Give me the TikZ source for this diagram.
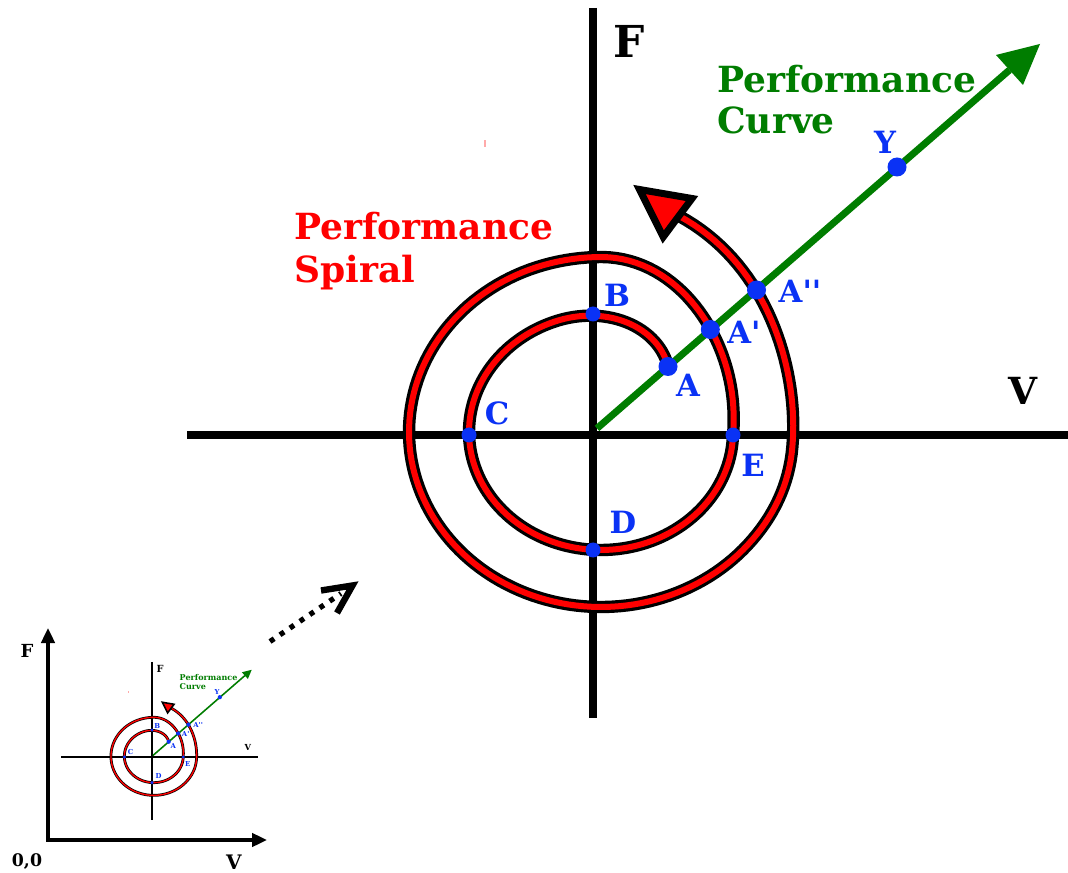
\documentclass[tikz,border=0pt]{standalone}
\usepackage{fontspec}
\setmainfont{DejaVu Serif}
\usetikzlibrary{arrows.meta}
\definecolor{ptblue}{RGB}{10,50,245}
\definecolor{ptgreen}{RGB}{0,125,0}
\definecolor{ptred}{RGB}{255,0,0}
\definecolor{ptpink}{RGB}{255,170,170}

\newcommand\mycore[1]{%
  % axes
  \coordinate (#1Ftop) at (593,8);
  \coordinate (#1Fbot) at (593,718);
  \coordinate (#1Vl) at (187,435);
  \coordinate (#1Vr) at (1068,435);
  \draw[mainaxis] (#1Ftop) -- (#1Fbot);
  \draw[mainaxis] (#1Vl) -- (#1Vr);
  \fill[ptpink] (484,140) rectangle (486,147);
  % spiral
  \draw[spiralline] plot[domain=44.6:795,samples=340]
     ({601+aa(\x)*cos(\x)},{432-bb(\x)*sin(\x)});
  \filldraw[spiralhead] (639.5,189.5) -- (692,198.5) -- (663.2,237) -- cycle;
  % performance curve
  \coordinate (#1O) at (597,428.4);
  \coordinate (#1Gbase) at (1009.5,70);
  \draw[greenline] (#1O) -- (#1Gbase);
  \fill[ptgreen] (1040,44) -- (996,55) -- (1023,85) -- cycle;
  % points
  \node[smalldot] (#1pB) at (593,314) {};
  \node[smalldot] (#1pC) at (469,435) {};
  \node[smalldot] (#1pD) at (593,550) {};
  \node[smalldot] (#1pE) at (733,435) {};
  \node[bigdot] (#1pA) at (668,366.5) {};
  \node[bigdot] (#1pA1) at (710.3,329.5) {};
  \node[bigdot] (#1pA2) at (756.5,290) {};
  \node[bigdot] (#1pY) at (897,167) {};
  % labels
  \node[ptlbl] (#1lA) at (688,385) {A};
  \node[ptlbl] (#1lA1) at (744,332) {A\textquotesingle};
  \node[ptlbl] (#1lA2) at (800,291) {A\textquotesingle\textquotesingle};
  \node[ptlbl] (#1lB) at (617,295) {B};
  \node[ptlbl] (#1lC) at (497,413) {C};
  \node[ptlbl] (#1lD) at (623,522) {D};
  \node[ptlbl] (#1lE) at (753,465) {E};
  \node[ptlbl] (#1lY) at (885,142) {Y};
  \node[axlbl, font=\fontsize{33}{36}\selectfont\bfseries] (#1lF) at (629,41) {F};
  \node[axlbl, font=\fontsize{28}{32}\selectfont\bfseries] (#1lV) at (1023,391) {V};
  \node[biglbl, text=ptgreen] (#1gc1) at (717,93) {Performance};
  \node[biglbl, text=ptgreen] (#1gc2) at (717,134) {Curve};
}

\begin{document}
\begin{tikzpicture}[x=0.75pt,y=-0.75pt,
  declare function={
    cl(\uu)=min(max(\uu,0),1);
    ss(\uu)=3*cl(\uu)*cl(\uu)-2*cl(\uu)*cl(\uu)*cl(\uu);
    eo(\uu)=1-(1-cl(\uu))*(1-cl(\uu));
    gg(\vv)=ifthenelse(\vv<40,max(\vv,0)*max(\vv,0)/80,\vv-20);
    aa(\ang)=94+38*eo((\ang-44.6)/75)+60*ss((\ang-355)/120)+0.0075*max(\ang-715,0)*max(\ang-715,0);
    bb(\ang)=94+24*eo((\ang-44.6)/65)+57*ss((\ang-360)/90)+0.597*gg(\ang-680);
  },
  mainaxis/.style={draw=black, line width=6pt},
  spiralline/.style={draw=black, double=ptred, double distance=4.5pt, line width=2.4pt, line join=round},
  spiralhead/.style={fill=ptred, draw=black, line width=5.25pt, line join=miter},
  greenline/.style={draw=ptgreen, line width=5.25pt},
  smalldot/.style={circle, fill=ptblue, inner sep=0pt, minimum size=11.25pt},
  bigdot/.style={circle, fill=ptblue, inner sep=0pt, minimum size=14.25pt},
  ptlbl/.style={text=ptblue, inner sep=0pt, font=\fontsize{23}{27}\selectfont\bfseries},
  axlbl/.style={text=black, inner sep=0pt},
  biglbl/.style={anchor=base west, inner sep=0pt, font=\fontsize{27}{31}\selectfont\bfseries},
  inaxis/.style={draw=black, line width=2.6pt, line join=miter},
  inlbl/.style={text=black, inner sep=0pt},
  dotline/.style={draw=black, line width=3.9pt, dash pattern=on 3.75pt off 5.25pt},
  barb/.style={draw=black, line width=4.8pt, line join=miter}
]
\useasboundingbox (0,0) rectangle (1068,873);
\fill[white] (0,0) rectangle (1068,873);

% main diagram
\mycore{m}
\node[biglbl, text=ptred] (sp1) at (294,240) {Performance};
\node[biglbl, text=ptred] (sp2) at (294,283) {Spiral};

% dotted arrow
\coordinate (dstart) at (270,641.5);
\coordinate (dend) at (341,593.5);
\coordinate (darm1) at (321,590.5);
\coordinate (dtip) at (352.5,585.5);
\coordinate (darm2) at (337,613);
\draw[dotline] (dstart) -- (dend);
\draw[barb] (darm1) -- (dtip) -- (darm2);

% inset
\coordinate (ax0) at (48,840);
\coordinate (axF) at (48,628);
\coordinate (axV) at (267,840);
\draw[inaxis, {Triangle[length=11.25pt,width=10pt]}-{Triangle[length=11.25pt,width=10pt]}] (axF) -- (ax0) -- (axV);
\node[inlbl, font=\fontsize{13.5}{15}\selectfont\bfseries] (iF) at (27,651) {F};
\node[inlbl, font=\fontsize{15}{17}\selectfont\bfseries] (iV) at (234,862) {V};
\node[inlbl, anchor=base, font=\fontsize{13}{15}\selectfont\bfseries] (i00) at (27,866) {0,0};
\begin{scope}[transform canvas={shift={(19.76,660)},scale=0.223}]
\mycore{i}
\end{scope}
\end{tikzpicture}
\end{document}
